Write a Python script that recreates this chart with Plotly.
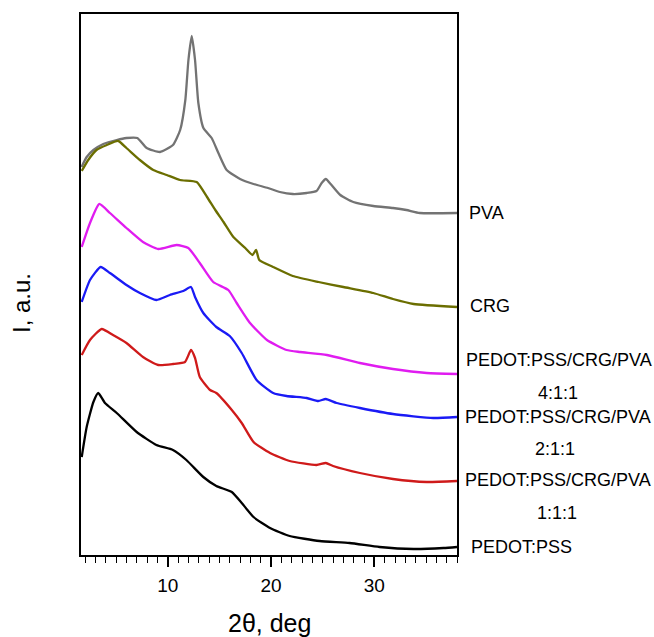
import plotly.graph_objects as go

# 2theta (deg) and intensity (a.u., offset curves)
pva_x = [1.65, 2.15, 2.8, 3.76, 5.06, 6.0, 7.05, 7.96, 9.25, 10.5, 11.2, 11.7, 12.0, 12.32, 12.64, 12.96,
         13.45, 14.25, 14.9, 15.7, 17.0, 18.3, 19.7, 20.85, 22.1, 23.45, 24.4, 24.9, 25.3, 25.77, 26.7,
         27.96, 29.9, 31.8, 33.1, 34.4, 38.0]
pva_y = [388, 398, 405, 411, 415, 417, 417, 407, 403, 410, 425, 455, 495, 519, 495, 452,
         427, 417, 402, 385, 376, 371, 367, 363, 361, 362, 364, 372, 376, 371, 360,
         353, 349, 347, 345, 342, 342]

crg_x = [1.67, 2.3, 3.1, 4.1, 5.2, 6.0, 7.3, 8.6, 9.9, 11.2, 12.8, 13.8, 14.6, 15.4, 16.35, 17.5,
         18.2, 18.55, 18.86, 20.2, 22.1, 24.6, 27.0, 29.9, 31.8, 33.8, 38.0]
crg_y = [384, 395, 405, 410, 414, 407, 395, 385, 380, 375, 373, 358, 345, 333, 318, 307,
         300, 305, 295, 288, 279, 273, 268, 262, 256, 251, 248]

m411_x = [1.67, 2.47, 3.37, 4.4, 6.0, 7.6, 9.08, 10.86, 11.99, 13.1, 14.4, 15.86, 16.67, 17.96,
          19.6, 21.5, 22.8, 25.4, 28.6, 31.8, 35.07, 38.0]
m411_y = [308, 332, 351, 342, 327, 313, 306, 310, 307, 292, 273, 265, 252, 232,
          215, 205, 203, 200, 192, 186, 182, 181]

m211_x = [1.67, 2.47, 3.5, 4.4, 6.0, 7.3, 8.9, 10.2, 11.5, 12.25, 12.64, 13.44, 14.7, 16.0, 17.16,
          18.6, 20.2, 21.5, 23.45, 24.57, 25.3, 26.35, 28.6, 31.8, 35.7, 38.0]
m211_y = [253, 275, 288, 282, 270, 262, 255, 260, 264, 268, 258, 242, 228, 219, 202,
          175, 162, 159, 157, 154, 156, 152, 147, 141, 137, 138]

m111_x = [1.67, 2.47, 3.6, 4.7, 6.0, 7.6, 9.08, 10.5, 11.67, 12.25, 12.64, 13.1, 14.1, 14.7, 16.2,
          17.16, 18.3, 19.9, 21.8, 24.4, 25.3, 26.0, 28.6, 31.8, 35.07, 38.0]
m111_y = [200, 215, 226, 220, 212, 198, 190, 191, 193, 205, 197, 178, 165, 162, 145,
          132, 113, 102, 94, 90, 92, 89, 82, 76, 73, 74]

pp_x = [1.67, 2.15, 2.8, 3.27, 3.92, 5.06, 6.99, 8.9, 10.5, 11.8, 13.44, 14.7, 16.2, 17.16, 18.3,
        19.9, 21.8, 24.7, 27.6, 30.5, 33.8, 36.7, 38.0]
pp_y = [98, 128, 153, 162, 152, 142, 123, 110, 105, 95, 78, 69, 63, 52, 38,
        27, 19, 14, 12, 8, 6, 7, 8]

series = [
    ("PVA", pva_x, pva_y, "#737373"),
    ("CRG", crg_x, crg_y, "#6b6e00"),
    ("PEDOT:PSS/CRG/PVA 4:1:1", m411_x, m411_y, "#e01cf0"),
    ("PEDOT:PSS/CRG/PVA 2:1:1", m211_x, m211_y, "#1a1af5"),
    ("PEDOT:PSS/CRG/PVA 1:1:1", m111_x, m111_y, "#cf1a1a"),
    ("PEDOT:PSS", pp_x, pp_y, "#000000"),
]

fig = go.Figure()
for name, xs, ys, c in series:
    fig.add_trace(go.Scatter(x=xs, y=ys, mode="lines", name=name,
                             line=dict(color=c, width=2.3, shape="spline", smoothing=0.5)))

font = "Liberation Sans, Arial, sans-serif"
labels = [
    ("PVA", 342, 467, "left"),
    ("CRG", 249, 468, "left"),
    ("PEDOT:PSS/CRG/PVA", 195, 464, "left"),
    ("4:1:1", 162, 558, "center"),
    ("PEDOT:PSS/CRG/PVA", 138, 463, "left"),
    ("2:1:1", 106, 555, "center"),
    ("PEDOT:PSS/CRG/PVA", 75, 463, "left"),
    ("1:1:1", 42, 557, "center"),
    ("PEDOT:PSS", 8, 469, "left"),
]
annotations = []
for t, yv, px, al in labels:
    annotations.append(dict(text=t, x=(px - 81) / 376, xref="paper", y=yv, yref="y",
                            xanchor=al, yanchor="middle", showarrow=False,
                            font=dict(family=font, size=18, color="black")))
annotations.append(dict(text="2θ, deg", x=(269 - 81) / 376, xref="paper", y=(555 - 623) / 541,
                        yref="paper", xanchor="center", yanchor="middle", showarrow=False,
                        font=dict(family=font, size=25, color="black")))
annotations.append(dict(text="I, a.u.", x=(21 - 81) / 376, xref="paper", y=(555 - 303) / 541,
                        yref="paper", xanchor="center", yanchor="middle", showarrow=False,
                        textangle=-90, font=dict(family=font, size=24, color="black")))

fig.update_layout(
    width=654, height=637,
    margin=dict(l=81, r=197, t=14, b=82),
    paper_bgcolor="white", plot_bgcolor="white",
    showlegend=False,
    annotations=annotations,
    font=dict(family=font, color="black"),
)
fig.update_xaxes(range=[1.6, 38.0], showgrid=False, zeroline=False,
                 showline=True, linecolor="black", linewidth=2, mirror=True,
                 ticks="outside", ticklen=10, tickwidth=1.5, tickcolor="black",
                 tick0=0, dtick=10, tickfont=dict(family=font, size=19, color="black"),
                 ticklabelstandoff=2,
                 minor=dict(dtick=1, tick0=0, ticks="outside", ticklen=6, tickwidth=1.3,
                            tickcolor="black", showgrid=False))
fig.update_yaxes(range=[0, 541], showgrid=False, zeroline=False,
                 showline=True, linecolor="black", linewidth=2, mirror=True,
                 ticks="", showticklabels=False)

fig.write_html("out.html", config={"displayModeBar": False},
               post_script="document.body.style.margin='0';document.body.style.overflow='hidden';")
